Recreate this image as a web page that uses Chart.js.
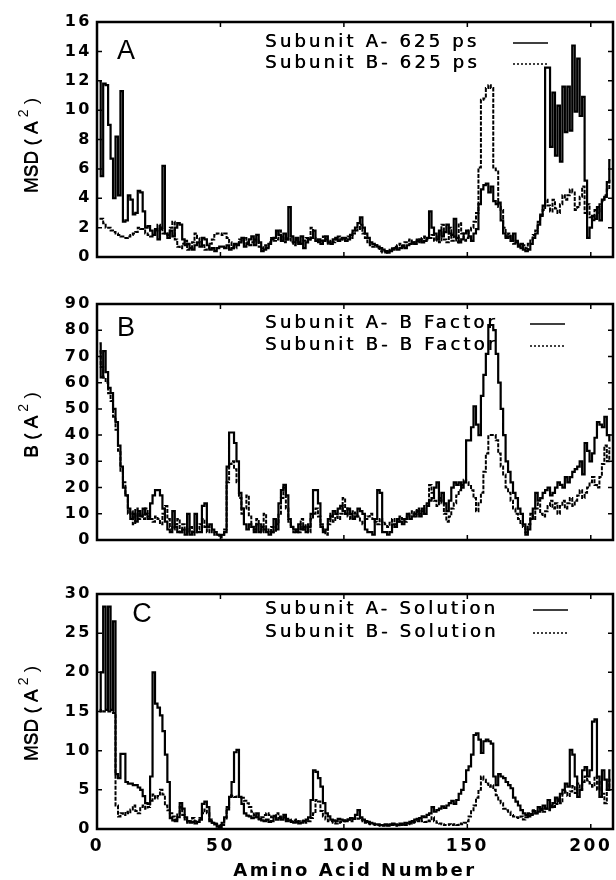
<!DOCTYPE html>
<html>
<head>
<meta charset="utf-8">
<script src="https://cdn.jsdelivr.net/npm/chart.js@4.4.0/dist/chart.umd.min.js"></script>
<style>
  body { margin: 0; background: #fff; }
  #wrap { position: relative; width: 616px; height: 880px; background: #fff; }
  canvas { position: absolute; left: 0; }
</style>
</head>
<body>
<div id="wrap">
  <canvas id="grafA" width="616" height="280" style="top:0px"></canvas>
  <canvas id="grafB" width="616" height="284" style="top:280px"></canvas>
  <canvas id="grafC" width="616" height="316" style="top:564px"></canvas>
</div>
<script>
// eixo x: numero do aminoacido (residuo 1..208)
const xTicks = [0, 50, 100, 150, 200];
const xTitulo = 'Amino Acid Number';

// painel A - MSD em 625 ps
const legendaA = ['Subunit A- 625 ps', 'Subunit B- 625 ps'];
const msd625A = [
  11.9, 5.5, 11.8, 11.7, 9.0, 6.7, 4.0, 8.2, 4.2, 11.3,
  2.4, 2.5, 4.2, 3.9, 2.9, 3.0, 4.5, 4.4, 3.1, 2.0,
  2.1, 1.8, 1.5, 1.9, 1.2, 2.0, 6.2, 1.6, 1.3, 1.8,
  1.4, 2.0, 2.3, 2.2, 1.2, 0.8, 0.9, 0.6, 0.5, 0.8,
  1.0, 0.7, 1.3, 1.2, 0.8, 0.5, 0.6, 0.4, 0.6, 0.7,
  0.7, 0.6, 0.8, 0.5, 0.6, 0.9, 0.8, 1.0, 1.3, 0.7,
  0.9, 1.2, 1.4, 0.8, 1.5, 1.0, 0.4, 0.5, 0.6, 0.9,
  1.2, 1.3, 1.8, 1.5, 1.1, 1.6, 1.2, 3.4, 1.4, 1.0,
  1.3, 0.9, 1.4, 0.6, 1.0, 1.2, 1.3, 1.8, 1.1, 1.2,
  0.9, 1.1, 1.4, 1.0, 0.9, 1.2, 1.3, 1.1, 1.2, 1.3,
  1.1, 1.2, 1.5, 1.8, 2.0, 2.3, 2.7, 2.0, 1.6, 1.3,
  1.0, 0.9, 0.8, 0.7, 0.6, 0.5, 0.4, 0.3, 0.4, 0.5,
  0.6, 0.5, 0.6, 0.7, 0.6, 0.8, 0.9, 1.0, 0.9, 1.1,
  1.2, 1.0, 1.1, 1.3, 3.1, 2.0, 1.6, 1.2, 1.8, 1.4,
  1.7, 2.2, 1.6, 1.5, 2.6, 1.3, 1.0, 1.2, 1.6, 1.8,
  1.4, 1.1, 1.6, 1.9, 3.6, 4.6, 4.9, 5.0, 4.4, 4.8,
  3.8, 3.6, 3.7, 2.5, 1.6, 1.3, 1.4, 1.1, 1.6, 1.0,
  0.7, 0.9, 0.5, 0.4, 0.5, 0.9, 1.3, 1.6, 2.2, 2.8,
  3.5, 12.9, 12.9, 7.5, 11.2, 6.9, 10.3, 6.5, 11.6, 8.5,
  11.6, 8.6, 14.4, 9.9, 13.5, 9.6, 10.9, 5.2, 1.3, 2.0,
  2.8, 2.6, 3.4, 2.5, 3.9, 4.1, 5.1, 6.6
];
const msd625B = [
  2.6, 2.6, 2.3, 2.0, 2.0, 1.8, 1.7, 1.6, 1.5, 1.4,
  1.4, 1.3, 1.4, 1.5, 1.6, 1.7, 2.0, 1.9, 1.9, 1.6,
  1.5, 1.4, 1.5, 1.8, 2.2, 1.9, 1.6, 1.6, 1.5, 2.0,
  2.4, 1.2, 0.7, 0.6, 0.9, 1.1, 0.5, 0.6, 1.0, 1.6,
  1.3, 1.0, 0.8, 0.5, 0.6, 0.9, 1.2, 1.5, 1.6, 1.6,
  1.5, 1.6, 1.3, 1.0, 0.7, 0.6, 0.9, 1.2, 1.1, 1.3,
  1.0, 0.8, 1.0, 1.2, 1.1, 0.7, 0.6, 0.8, 0.7, 1.0,
  1.3, 1.1, 1.2, 1.8, 1.4, 1.0, 1.2, 1.3, 1.0, 0.8,
  1.2, 1.0, 0.9, 1.1, 1.3, 1.2, 2.0, 1.3, 1.1, 1.0,
  1.1, 1.4, 1.2, 0.9, 1.1, 1.0, 1.2, 1.4, 1.3, 1.2,
  1.3, 1.4, 1.3, 1.6, 1.8, 1.9, 2.2, 1.6, 1.3, 1.0,
  0.8, 0.7, 0.8, 0.6, 0.4, 0.3, 0.3, 0.4, 0.5, 0.6,
  0.7, 0.8, 0.9, 0.8, 1.0, 1.1, 1.2, 0.9, 1.0, 1.2,
  1.0, 1.3, 1.4, 1.2, 1.3, 1.5, 1.1, 1.4, 1.0, 2.2,
  1.2, 1.0, 2.0, 1.1, 1.4, 1.0, 2.3, 1.6, 1.1, 1.3,
  1.8, 2.0, 2.4, 3.0, 6.1, 10.7, 10.8, 11.5, 11.7, 11.5,
  6.1, 5.9, 3.4, 3.2, 2.0, 1.4, 1.6, 1.2, 0.9, 1.1,
  0.8, 0.6, 0.8, 0.6, 0.9, 1.2, 1.5, 1.8, 2.4, 2.9,
  3.2, 3.9, 3.5, 3.1, 3.9, 3.3, 3.0, 3.6, 4.2, 3.9,
  4.2, 4.6, 4.4, 3.2, 3.4, 4.1, 4.8, 3.0, 3.6, 2.7,
  2.5, 3.2, 3.0, 3.6, 3.8, 4.2, 4.6, 5.2
];

// painel B - fator B cristalografico
const legendaB = ['Subunit A- B Factor', 'Subunit B- B Factor'];
const bFactorA = [
  75, 62, 72, 64, 58, 56, 50, 45, 36, 28,
  20, 17, 12, 8, 10, 7, 11, 9, 12, 10,
  8, 14, 17, 19, 19, 17, 12, 7, 4, 3,
  11, 5, 3, 3, 4, 2, 10, 2, 3, 10,
  3, 3, 13, 14, 5, 6, 4, 3, 2, 2,
  2, 3, 28, 41, 41, 37, 30, 18, 12, 6,
  4, 6, 5, 3, 6, 3, 5, 4, 3, 2,
  3, 8, 4, 14, 19, 21, 17, 8, 5, 4,
  3, 6, 4, 5, 3, 5, 10, 19, 19, 14,
  5, 3, 4, 8, 9, 11, 10, 12, 13, 11,
  10, 12, 10, 8, 9, 12, 11, 10, 4, 3,
  3, 2, 8, 19, 18, 3, 3, 2, 3, 6,
  5, 8, 7, 6, 8, 10, 8, 9, 10, 11,
  9, 12, 10, 13, 15, 16, 20, 22, 15, 18,
  14, 11, 15, 20, 22, 21, 22, 20, 22, 38,
  38, 43, 51, 44, 40, 55, 63, 71, 82, 82,
  80, 71, 60, 50, 40, 30, 26, 22, 18, 16,
  12, 10, 6, 2, 4, 8, 12, 18, 15, 16,
  18, 19, 20, 17, 18, 20, 22, 21, 20, 24,
  22, 24, 26, 27, 28, 30, 25, 37, 34, 30,
  33, 39, 45, 44, 43, 47, 40, 38
];
const bFactorB = [
  72, 66, 62, 60, 56, 53, 47, 42, 34, 26,
  22, 17, 10, 11, 6, 12, 8, 10, 8, 12,
  9, 8, 7, 9, 8, 6, 10, 13, 8, 5,
  4, 6, 8, 3, 6, 4, 3, 5, 2, 3,
  4, 6, 8, 5, 3, 4, 3, 2, 2, 1,
  2, 4, 22, 29, 30, 27, 22, 16, 10, 12,
  17, 9, 5, 4, 8, 6, 3, 10, 4, 3,
  5, 3, 6, 10, 16, 20, 12, 7, 5, 3,
  4, 3, 8, 4, 6, 3, 8, 10, 12, 9,
  6, 4, 2, 6, 10, 7, 9, 8, 10, 16,
  12, 9, 8, 11, 10, 9, 7, 6, 8, 9,
  10, 8, 7, 6, 8, 7, 6, 5, 7, 8,
  6, 7, 9, 8, 7, 9, 10, 11, 9, 12,
  10, 11, 13, 14, 21, 18, 15, 13, 16, 14,
  10, 7, 9, 12, 14, 17, 19, 21, 23, 22,
  21, 19, 16, 11, 14, 18, 26, 33, 40, 40,
  40, 38, 33, 28, 25, 20, 18, 15, 12, 10,
  8, 6, 5, 3, 6, 10, 8, 12, 14, 10,
  9, 11, 13, 15, 12, 14, 10, 13, 15, 12,
  14, 16, 13, 15, 17, 19, 16, 18, 20, 22,
  24, 21, 20, 24, 29, 36, 30, 35
];

// painel C - MSD em solucao
const legendaC = ['Subunit A- Solution', 'Subunit B- Solution'];
const msdSolA = [
  15.2, 20.0, 28.4, 15.2, 28.4, 15.2, 26.5, 7.0, 6.5, 9.6,
  9.6, 6.0, 5.8, 5.8, 5.6, 5.6, 5.3, 5.0, 4.2, 3.3,
  3.2, 6.7, 20.0, 16.0, 15.5, 14.5, 12.5, 9.5, 6.0, 1.4,
  1.1, 1.0, 1.5, 3.3, 2.6, 1.5, 1.0, 0.8, 0.9, 0.7,
  0.9, 1.2, 3.2, 3.5, 2.8, 1.0, 0.8, 0.6, 0.3, 0.1,
  0.8, 1.5, 2.5, 4.1, 6.0, 9.8, 10.1, 4.1, 3.2, 2.0,
  1.7, 1.6, 1.4, 1.5, 2.0, 1.3, 1.1, 1.0, 1.2, 0.9,
  1.0, 1.6, 1.2, 1.4, 1.2, 1.8, 1.0, 1.1, 0.9, 0.8,
  0.9, 0.7, 0.8, 1.0, 1.2, 1.5, 3.7, 7.5, 7.3, 6.5,
  5.4, 3.3, 2.0, 1.6, 1.2, 1.1, 1.0, 1.3, 1.2, 1.1,
  1.0, 1.2, 1.4, 1.3, 1.8, 2.4, 1.5, 1.2, 1.0, 0.9,
  0.8, 0.7, 0.6, 0.6, 0.5, 0.5, 0.6, 0.5, 0.6, 0.7,
  0.6, 0.5, 0.7, 0.6, 0.8, 0.7, 0.9, 1.0, 1.2, 1.3,
  1.4, 1.6, 1.5, 1.8, 2.0, 2.8, 2.2, 2.4, 2.6, 2.9,
  2.7, 3.0, 3.3, 3.6, 3.2, 3.7, 4.5, 5.0, 6.0, 7.5,
  8.0, 9.5, 12.0, 12.2, 11.4, 9.7, 11.2, 11.4, 11.2, 10.9,
  6.7, 5.6, 7.0, 6.7, 6.5, 6.0, 5.6, 5.2, 4.0, 3.5,
  3.0, 2.4, 2.0, 1.8, 1.6, 1.9, 2.3, 2.0, 2.8, 2.4,
  3.0, 2.6, 3.7, 2.8, 3.3, 4.0, 3.6, 4.5, 5.0, 5.8,
  5.4, 10.1, 9.5, 6.7, 4.1, 5.0, 7.5, 7.9, 6.7, 7.5,
  13.7, 14.0, 6.7, 4.1, 7.5, 6.3, 5.0, 7.5
];
const msdSolB = [
  15.0, 15.2, 15.0, 15.0, 15.0, 15.0, 14.8, 3.0, 1.6, 2.0,
  1.8, 2.2, 2.0, 2.5, 3.0, 2.3, 2.0, 2.8, 3.0, 2.6,
  2.8, 3.6, 4.4, 3.9, 4.2, 5.0, 4.4, 3.0, 2.4, 2.0,
  1.6, 1.2, 2.0, 2.8, 1.8, 1.2, 0.8, 1.0, 1.4, 1.0,
  0.9, 1.4, 2.0, 2.5, 2.0, 1.2, 0.8, 0.7, 0.6, 0.3,
  0.5, 1.2, 2.8, 4.3, 4.2, 4.1, 4.3, 4.1, 4.0, 3.6,
  3.3, 2.8, 2.2, 1.8, 1.5, 1.2, 1.5, 1.8, 2.0, 1.8,
  1.5, 1.7, 2.0, 1.6, 1.4, 1.5, 1.3, 1.2, 1.0, 1.1,
  1.2, 1.0, 0.9, 1.1, 0.8, 1.0, 1.4, 2.0, 3.7, 3.5,
  2.3, 1.6, 1.2, 1.0, 1.0, 0.8, 0.7, 0.8, 0.9, 1.0,
  1.1, 1.2, 1.0, 1.3, 1.5, 1.3, 1.2, 1.0, 0.8, 0.7,
  0.6, 0.6, 0.5, 0.5, 0.4, 0.4, 0.5, 0.4, 0.5, 0.5,
  0.4, 0.5, 0.5, 0.6, 0.5, 0.6, 0.7, 0.8, 0.9, 1.0,
  1.2, 1.0, 0.9, 1.1, 1.0, 1.5, 1.0, 0.8, 0.7, 0.6,
  0.5, 0.5, 0.6, 0.5, 0.6, 0.5, 0.7, 0.6, 0.8, 1.0,
  1.6, 2.4, 3.0, 4.0, 5.0, 6.7, 6.3, 5.8, 5.4, 5.6,
  5.0, 4.3, 3.6, 3.3, 2.6, 2.4, 2.2, 1.8, 1.6, 1.5,
  1.4, 1.6, 1.2, 1.5, 2.0, 1.8, 2.4, 2.0, 2.2, 2.6,
  2.2, 2.6, 2.4, 3.0, 2.8, 3.2, 3.8, 3.3, 4.5, 4.8,
  4.2, 4.8, 5.5, 4.6, 5.8, 5.0, 6.0, 6.7, 6.2, 5.8,
  5.4, 6.7, 5.0, 6.0, 4.5, 3.3, 5.0, 6.3
];

// moldura, marcas internas, letra do painel, legenda e titulo do eixo y
const moldura = {
  id: 'moldura',
  beforeDraw(chart) {
    chart.ctx.letterSpacing = '2.5px'; // fonte larga do original
  },
  afterDraw(chart, args, o) {
    const ctx = chart.ctx;
    const a = chart.chartArea;
    const x = chart.scales.x, y = chart.scales.y;
    ctx.save();
    ctx.strokeStyle = '#000';
    ctx.fillStyle = '#000';
    ctx.lineWidth = 2.5;
    ctx.strokeRect(a.left, a.top, a.right - a.left, a.bottom - a.top);

    ctx.lineWidth = 1.5;
    ctx.beginPath();
    y.ticks.forEach(t => {
      const p = y.getPixelForValue(t.value);
      ctx.moveTo(a.left, p); ctx.lineTo(a.left + 5, p);
      ctx.moveTo(a.right, p); ctx.lineTo(a.right - 5, p);
    });
    xTicks.forEach(v => {
      const p = x.getPixelForValue(v);
      ctx.moveTo(p, a.top); ctx.lineTo(p, a.top + 5);
      ctx.moveTo(p, a.bottom); ctx.lineTo(p, a.bottom - 5);
    });
    ctx.stroke();

    ctx.textBaseline = 'middle';
    ctx.letterSpacing = '0px';
    ctx.textAlign = 'center';
    ctx.font = '27px "Liberation Sans"';
    ctx.fillText(o.letra, a.left + o.letraX, a.top + o.letraY);

    ctx.textAlign = 'left';
    ctx.font = '18px "DejaVu Sans"';
    ctx.letterSpacing = '3.2px';
    o.legenda.forEach((txt, i) => {
      const yy = a.top + o.legendaY[i];
      ctx.fillText(txt, 265, yy);
      ctx.fillText(txt, 265.5, yy); // traco mais escuro, como no original
      ctx.setLineDash(i ? [2, 2] : []);
      ctx.lineWidth = 1.5;
      ctx.beginPath();
      ctx.moveTo(o.amostraX, yy + 1);
      ctx.lineTo(o.amostraX + 35, yy + 1);
      ctx.stroke();
    });
    ctx.setLineDash([]);

    // titulo vertical com o "2" sobrescrito
    ctx.letterSpacing = '0px';
    ctx.translate(32, (a.top + a.bottom) / 2 + o.tituloDy);
    ctx.rotate(-Math.PI / 2);
    const f1 = '19px "Liberation Sans Narrow", "Liberation Sans"';
    const f2 = '14px "Liberation Sans"';
    ctx.font = f1;
    const w1 = ctx.measureText(o.titulo).width;
    const w3 = ctx.measureText(' )').width;
    ctx.font = f2;
    const w2 = ctx.measureText(' 2').width;
    const sx = -(w1 + w2 + w3) / 2;
    ctx.font = f1; ctx.fillText(o.titulo, sx, 0); ctx.fillText(o.titulo, sx, 0.5);
    ctx.font = f2; ctx.fillText(' 2', sx + w1, -8);
    ctx.font = f1; ctx.fillText(' )', sx + w1 + w2, 0);
    ctx.restore();
  }
};

function serie(valores) {
  return valores.map((v, i) => ({ x: i + 1, y: v }));
}

function montarPainel(id, s1, s2, cfg) {
  const fonteTick = { family: 'DejaVu Sans', weight: 'bold' };
  new Chart(document.getElementById(id), {
    type: 'line',
    data: {
      datasets: [
        { data: serie(s1), borderColor: '#000', borderWidth: 2.2, stepped: 'middle', pointRadius: 0, fill: false },
        { data: serie(s2), borderColor: '#000', borderWidth: 2, borderDash: [4, 1.5], stepped: 'middle', pointRadius: 0, fill: false }
      ]
    },
    options: {
      responsive: false,
      animation: false,
      events: [],
      layout: { padding: { left: 0, right: 3, top: cfg.topo, bottom: 0 } },
      plugins: {
        legend: { display: false },
        tooltip: { enabled: false },
        moldura: cfg.moldura
      },
      scales: {
        x: {
          type: 'linear', min: 0, max: 209,
          afterBuildTicks: s => { s.ticks = xTicks.map(v => ({ value: v })); },
          ticks: { display: cfg.mostrarX, font: { ...fonteTick, size: 17 }, color: '#000', padding: 7, maxRotation: 0, autoSkip: false },
          grid: { display: false, drawTicks: false },
          border: { display: false },
          title: { display: cfg.mostrarX, text: xTitulo, color: '#000', font: { ...fonteTick, size: 18, lineHeight: 1 }, padding: { top: 0, bottom: 0 } },
          afterFit: s => { s.height = cfg.alturaX; }
        },
        y: {
          min: 0, max: cfg.yMax,
          ticks: { stepSize: cfg.yPasso, font: { ...fonteTick, size: 16 }, color: '#000', padding: 5 },
          grid: { display: false, drawTicks: false },
          border: { display: false },
          afterFit: s => { s.width = 97; }
        }
      }
    },
    plugins: [moldura]
  });
}

montarPainel('grafA', msd625A, msd625B, {
  topo: 22, alturaX: 23, mostrarX: false, yMax: 16, yPasso: 2,
  moldura: { letra: 'A', letraX: 29, letraY: 30, legenda: legendaA, legendaY: [20, 41], amostraX: 513, titulo: 'MSD ( A', tituloDy: 6 }
});
montarPainel('grafB', bFactorA, bFactorB, {
  topo: 24, alturaX: 24, mostrarX: false, yMax: 90, yPasso: 10,
  moldura: { letra: 'B', letraX: 29, letraY: 25, legenda: legendaB, legendaY: [19, 41], amostraX: 530, titulo: 'B ( A', tituloDy: 3 }
});
montarPainel('grafC', msdSolA, msdSolB, {
  topo: 30, alturaX: 51, mostrarX: true, yMax: 30, yPasso: 5,
  moldura: { letra: 'C', letraX: 45, letraY: 21, legenda: legendaC, legendaY: [15, 38], amostraX: 533, titulo: 'MSD ( A', tituloDy: 2 }
});
</script>
</body>
</html>
